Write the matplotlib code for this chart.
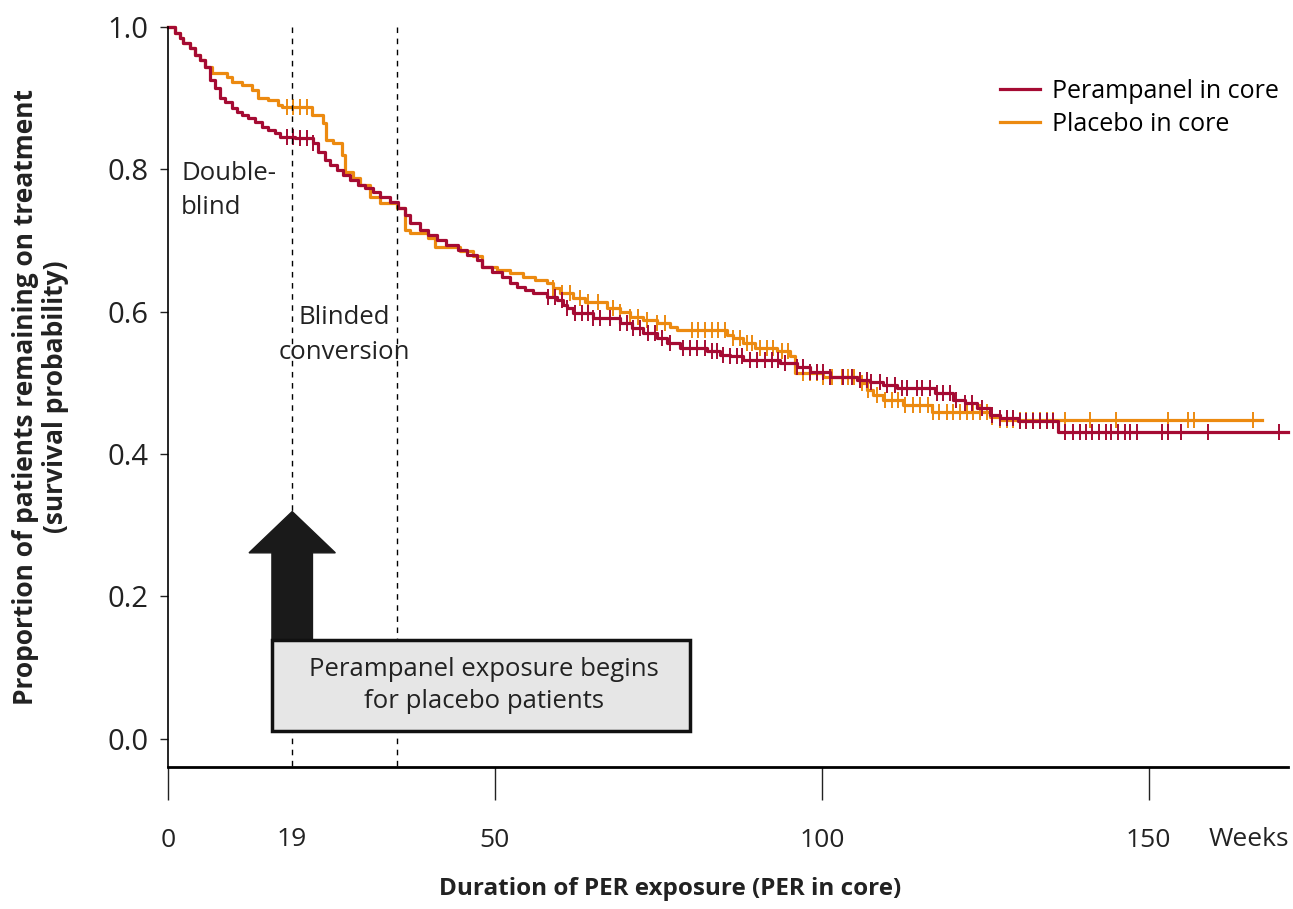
import numpy as np
import matplotlib
matplotlib.use("Agg")
from matplotlib import pyplot as plt
from matplotlib.patches import Rectangle, Polygon

plt.rcParams['font.family'] = ['Open Sans', 'DejaVu Sans']

# Kaplan-Meier steps (weeks, survival after the step)
per_weeks = [0, 1.1, 1.8, 2.3, 3.4, 4.1, 4.9, 5.7, 6.4, 7.2, 8.0, 8.7, 9.8, 10.6, 11.3, 12.2,
             13.3, 14.4, 15.3, 16.4, 17.1, 19.5, 22.2, 23.0, 24.0, 24.8, 25.8, 26.7, 27.8,
             29.0, 30.1, 31.3, 32.4, 33.9, 35.2, 36.2, 37.0, 38.5, 39.7, 41.1, 42.6, 44.3,
             45.8, 47.2, 48.0, 49.5, 51.1, 52.3, 53.4, 54.6, 55.8, 57.9, 59.5, 60.4, 61.0,
             62.0, 65.0, 69.1, 70.9, 72.6, 74.8, 76.3, 78.3, 82.4, 84.4, 85.9, 87.9, 93.6,
             96.2, 98.2, 101.2, 105.4, 107.3, 109.3, 111.5, 117.3, 120.0, 121.9, 123.7,
             125.7, 127.2, 130.0, 136.1]
per_surv = [1.0, 0.992, 0.985, 0.978, 0.970, 0.961, 0.954, 0.944, 0.926, 0.914, 0.900, 0.895,
            0.886, 0.881, 0.876, 0.872, 0.867, 0.860, 0.855, 0.851, 0.846, 0.844, 0.837, 0.824,
            0.813, 0.806, 0.799, 0.792, 0.785, 0.778, 0.774, 0.768, 0.761, 0.754, 0.746, 0.736,
            0.725, 0.715, 0.708, 0.701, 0.694, 0.687, 0.680, 0.673, 0.663, 0.656, 0.649, 0.640,
            0.635, 0.631, 0.626, 0.621, 0.617, 0.610, 0.605, 0.598, 0.591, 0.584, 0.577, 0.570,
            0.563, 0.556, 0.549, 0.544, 0.539, 0.537, 0.532, 0.528, 0.522, 0.515, 0.508, 0.504,
            0.501, 0.497, 0.493, 0.486, 0.476, 0.472, 0.465, 0.455, 0.451, 0.446, 0.431]
per_end = 171.3

pla_weeks = [0, 1.1, 1.8, 2.3, 3.4, 4.1, 4.9, 5.7, 6.8, 9.0, 9.8, 11.3, 12.8, 13.8, 15.3, 16.8,
             17.5, 22.0, 23.7, 24.2, 25.2, 26.6, 27.1, 28.3, 29.4, 30.9, 32.4, 35.0, 36.2,
             37.0, 39.8, 40.8, 44.6, 46.6, 48.0, 50.3, 52.3, 54.3, 56.1, 58.0, 58.9, 59.9,
             61.9, 63.8, 67.1, 69.1, 70.6, 72.6, 74.8, 76.8, 77.8, 85.5, 86.4, 87.9, 89.8,
             93.1, 95.1, 95.9, 100.2, 105.8, 106.9, 107.8, 109.3, 112.4, 116.8, 125.7, 127.2]
pla_surv = [1.0, 0.992, 0.985, 0.978, 0.970, 0.961, 0.954, 0.944, 0.935, 0.930, 0.923, 0.918,
            0.912, 0.900, 0.897, 0.890, 0.888, 0.876, 0.865, 0.841, 0.837, 0.820, 0.796, 0.788,
            0.778, 0.761, 0.753, 0.746, 0.715, 0.710, 0.704, 0.691, 0.685, 0.678, 0.663, 0.659,
            0.654, 0.649, 0.645, 0.640, 0.633, 0.626, 0.619, 0.614, 0.605, 0.600, 0.593, 0.588,
            0.584, 0.579, 0.574, 0.567, 0.563, 0.556, 0.549, 0.544, 0.537, 0.514, 0.508, 0.500,
            0.490, 0.483, 0.476, 0.469, 0.459, 0.452, 0.448]
pla_end = 167.3

# censored observations (weeks)
per_cens = [18.2, 19.1, 20.2, 21.3, 22.2, 58.1, 59.2, 60.2, 61.0, 62.2, 63.3, 64.2, 65.0,
            66.1, 67.6, 69.1, 70.2, 71.1, 72.2, 73.4, 74.5, 75.5, 76.8, 78.8, 79.8, 80.9,
            82.1, 83.2, 83.9, 84.9, 85.9, 87.0, 87.8, 89.0, 90.1, 91.3, 92.4, 93.3, 94.3,
            96.2, 97.1, 98.2, 99.2, 100.2, 101.2, 103.2, 104.6, 105.8, 106.9, 107.6, 108.9,
            109.9, 111.2, 112.2, 113.1, 114.5, 115.4, 116.5, 117.6, 118.5, 119.6, 120.6,
            121.9, 122.9, 124.5, 126.1, 127.2, 128.3, 129.2, 130.3, 131.3, 132.3, 133.3,
            134.4, 135.3, 137.2, 138.4, 139.5, 140.4, 141.4, 142.4, 143.4, 144.3, 145.3,
            146.3, 147.2, 148.2, 152.0, 153.0, 155.0, 159.0, 170.0]
pla_cens = [18.2, 19.1, 20.2, 21.3, 58.9, 60.2, 61.5, 63.0, 64.2, 65.7, 68.0, 69.1, 70.6,
            71.9, 73.2, 74.8, 76.0, 80.1, 81.0, 82.1, 83.2, 84.1, 85.2, 86.4, 87.5, 88.5,
            89.4, 90.5, 91.6, 92.5, 93.9, 94.8, 97.1, 98.2, 99.2, 100.2, 101.5, 103.1, 104.0,
            105.0, 106.1, 107.0, 108.4, 109.6, 110.7, 111.6, 112.7, 113.9, 115.0, 116.2,
            117.0, 118.0, 119.1, 120.0, 121.1, 122.2, 123.1, 124.2, 125.2, 126.1, 127.2,
            128.3, 129.2, 130.3, 131.3, 132.3, 133.3, 134.4, 135.3, 137.2, 141.0, 145.0,
            153.0, 156.0, 157.0, 166.0]

red = '#a50b33'
orange = '#ec8a10'
txt = '#222222'


def km_at(t, weeks, surv):
    idx = np.searchsorted(weeks, t, side='right') - 1
    return np.array(surv)[idx]


fig = plt.figure(figsize=(12.93, 9.09), dpi=100)
ax = fig.add_axes([0.1299, 0.1562, 0.8662, 0.8141])

for weeks, surv, end, cens, col, lab in [
        (pla_weeks, pla_surv, pla_end, pla_cens, orange, 'Placebo in core'),
        (per_weeks, per_surv, per_end, per_cens, red, 'Perampanel in core')]:
    x = list(weeks) + [end]
    y = list(surv) + [surv[-1]]
    ax.step(x, y, where='post', color=col, lw=2.3, label=lab, clip_on=False)
    cens = np.array(cens)
    ax.plot(cens, km_at(cens, weeks, surv), ls='none', marker='|', ms=12,
            mew=1.4, color=col, clip_on=False)

# phase boundaries
for xv in [19, 35]:
    ax.plot([xv, xv], [1.0, -0.04], ls=(0, (4, 4)), color='black', lw=1.0, clip_on=False)

ax.set_xlim(0, 171.3)
ax.set_ylim(-0.04, 1.0)

ax.spines['top'].set_visible(False)
ax.spines['right'].set_visible(False)
ax.spines['left'].set_linewidth(1.2)
ax.spines['bottom'].set_linewidth(2.0)

ax.set_xticks([0, 50, 100, 150])
ax.set_xticklabels(['0', '50', '100', '150'])
ax.tick_params(axis='x', length=24, width=1.0, pad=20, labelsize=19, colors=txt)
ax.set_yticks([0.0, 0.2, 0.4, 0.6, 0.8, 1.0])
ax.set_yticklabels(['0.0', '0.2', '0.4', '0.6', '0.8', '1.0'])
ax.tick_params(axis='y', length=6, width=1.0, pad=8, labelsize=21, colors=txt)

ax.text(19, -0.124, '19', ha='center', va='top', fontsize=19, color=txt)
ax.text(165.3, -0.124, 'Weeks', ha='center', va='top', fontsize=19, color=txt)

ax.text(2, 0.77, 'Double-\nblind', ha='left', va='center', fontsize=18.5,
        color=txt, linespacing=1.5)
ax.text(27, 0.567, 'Blinded\nconversion', ha='center', va='center', fontsize=18.5,
        color=txt, linespacing=1.5)

# block arrow and explanation box
shaft = 3.1
head = 6.6
arrow = Polygon([[19 - shaft, 0.139], [19 - shaft, 0.261], [19 - head, 0.261], [19, 0.319],
                 [19 + head, 0.261], [19 + shaft, 0.261], [19 + shaft, 0.139]],
                closed=True, facecolor='#1a1a1a', edgecolor='#1a1a1a', zorder=4)
ax.add_patch(arrow)
box = Rectangle((15.9, 0.01), 63.9, 0.129, facecolor='#e6e6e6', edgecolor='#111111',
                lw=2.5, zorder=5)
ax.add_patch(box)
ax.text(48.3, 0.0745, 'Perampanel exposure begins\nfor placebo patients', ha='center',
        va='center', fontsize=18.5, color=txt, zorder=6, linespacing=1.4)

handles, labels = ax.get_legend_handles_labels()
ax.legend(handles[::-1], labels[::-1], loc='upper right', bbox_to_anchor=(1.012, 0.96),
          frameon=False, fontsize=18, handlelength=1.6, handletextpad=0.5,
          labelspacing=0.3)

ax.set_xlabel('Duration of PER exposure (PER in core)', fontsize=17.5, fontweight='bold',
              color=txt)
ax.xaxis.set_label_coords(0.448, -0.148)
fig.text(0.031, 0.563, 'Proportion of patients remaining on treatment\n(survival probability)',
         rotation=90, ha='center', va='center', fontsize=19, fontweight='bold',
         color=txt, multialignment='center', linespacing=1.15)

fig.savefig('out.png', dpi=100)
